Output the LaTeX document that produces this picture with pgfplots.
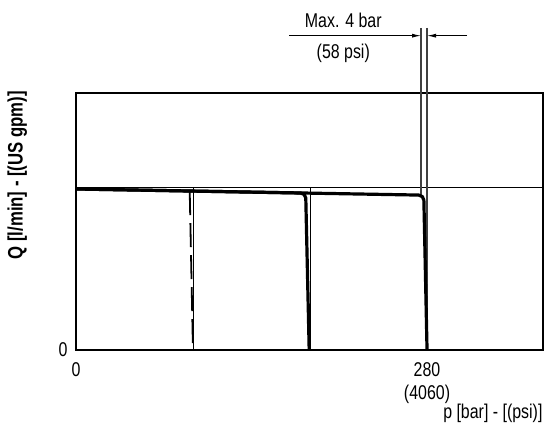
\documentclass[border=0pt]{standalone}
\usepackage{fontspec}
\setmainfont{Liberation Sans}[FakeStretch=0.8]
\usepackage{pgfplots}
\pgfplotsset{compat=1.18}
\usetikzlibrary{arrows.meta}
\begin{document}
\begin{tikzpicture}
\path[use as bounding box] (-76bp,-82bp) rectangle (470bp,350bp);
\begin{axis}[
  at={(0,0)}, anchor=south west,
  width=467bp, height=257bp, scale only axis,
  xmin=0, xmax=372.5, ymin=0, ymax=100,
  axis line style={line width=1.6bp},
  xtick={0,280},
  xticklabels={0,{280\\[3bp](4060)}},
  ytick={0}, yticklabels={0},
  major tick length=0pt,
  xticklabel style={align=center, font=\fontsize{20}{20}\selectfont, yshift=-9bp},
  yticklabel style={font=\fontsize{20}{20}\selectfont, xshift=-5bp},
  xlabel={p [bar] - [(psi)]},
  xlabel style={font=\fontsize{20}{20}\selectfont, at={(axis description cs:1,0)}, anchor=north east, yshift=-51bp, xshift=3bp},
  ylabel={\bfseries Q [l/min] - [(US gpm)]},
  ylabel style={font=\fontsize{21}{21}\selectfont, at={(axis description cs:-0.126,0.68)}, anchor=center},
  clip=false,
]
% thin reference lines
\addplot[line width=0.8bp, black] coordinates {(0,63.1) (372.5,63.1)};
\addplot[line width=0.8bp, black] coordinates {(93.3,63.1) (93.3,0)};
\addplot[line width=0.8bp, black] coordinates {(186.7,63.1) (186.7,0)};
\addplot[line width=1.1bp, black!75] coordinates {(280,125.3) (280,0)};
\addplot[line width=1.1bp, black!75] coordinates {(275.2,125.3) (275.2,60.3)};
% characteristic curves
\addplot[line width=3.2bp, black, rounded corners=5bp, line join=round] coordinates {(0,62.65) (277.4,60.25) (280,0)};
\addplot[line width=3.2bp, black, rounded corners=5bp, line join=round] coordinates {(0,62.65) (183.2,61.05) (186,0)};
\addplot[line width=1.8bp, black, dash pattern=on 24bp off 8bp] coordinates {(90.7,61.8) (93.3,0)};
% dimension line
\draw[line width=0.9bp, -{Latex[length=9bp,width=4bp]}] (axis cs:169.9,122.3) -- (axis cs:275.2,122.3);
\draw[line width=0.9bp, -{Latex[length=9bp,width=4bp]}] (axis cs:311.9,122.3) -- (axis cs:280,122.3);
\node[anchor=base, font=\fontsize{20}{20}\selectfont] at (axis cs:213.2,125.5) {Max. 4 bar};
\node[anchor=base, font=\fontsize{20}{20}\selectfont] at (axis cs:213.2,113.3) {(58 psi)};
\end{axis}
\end{tikzpicture}
\end{document}
